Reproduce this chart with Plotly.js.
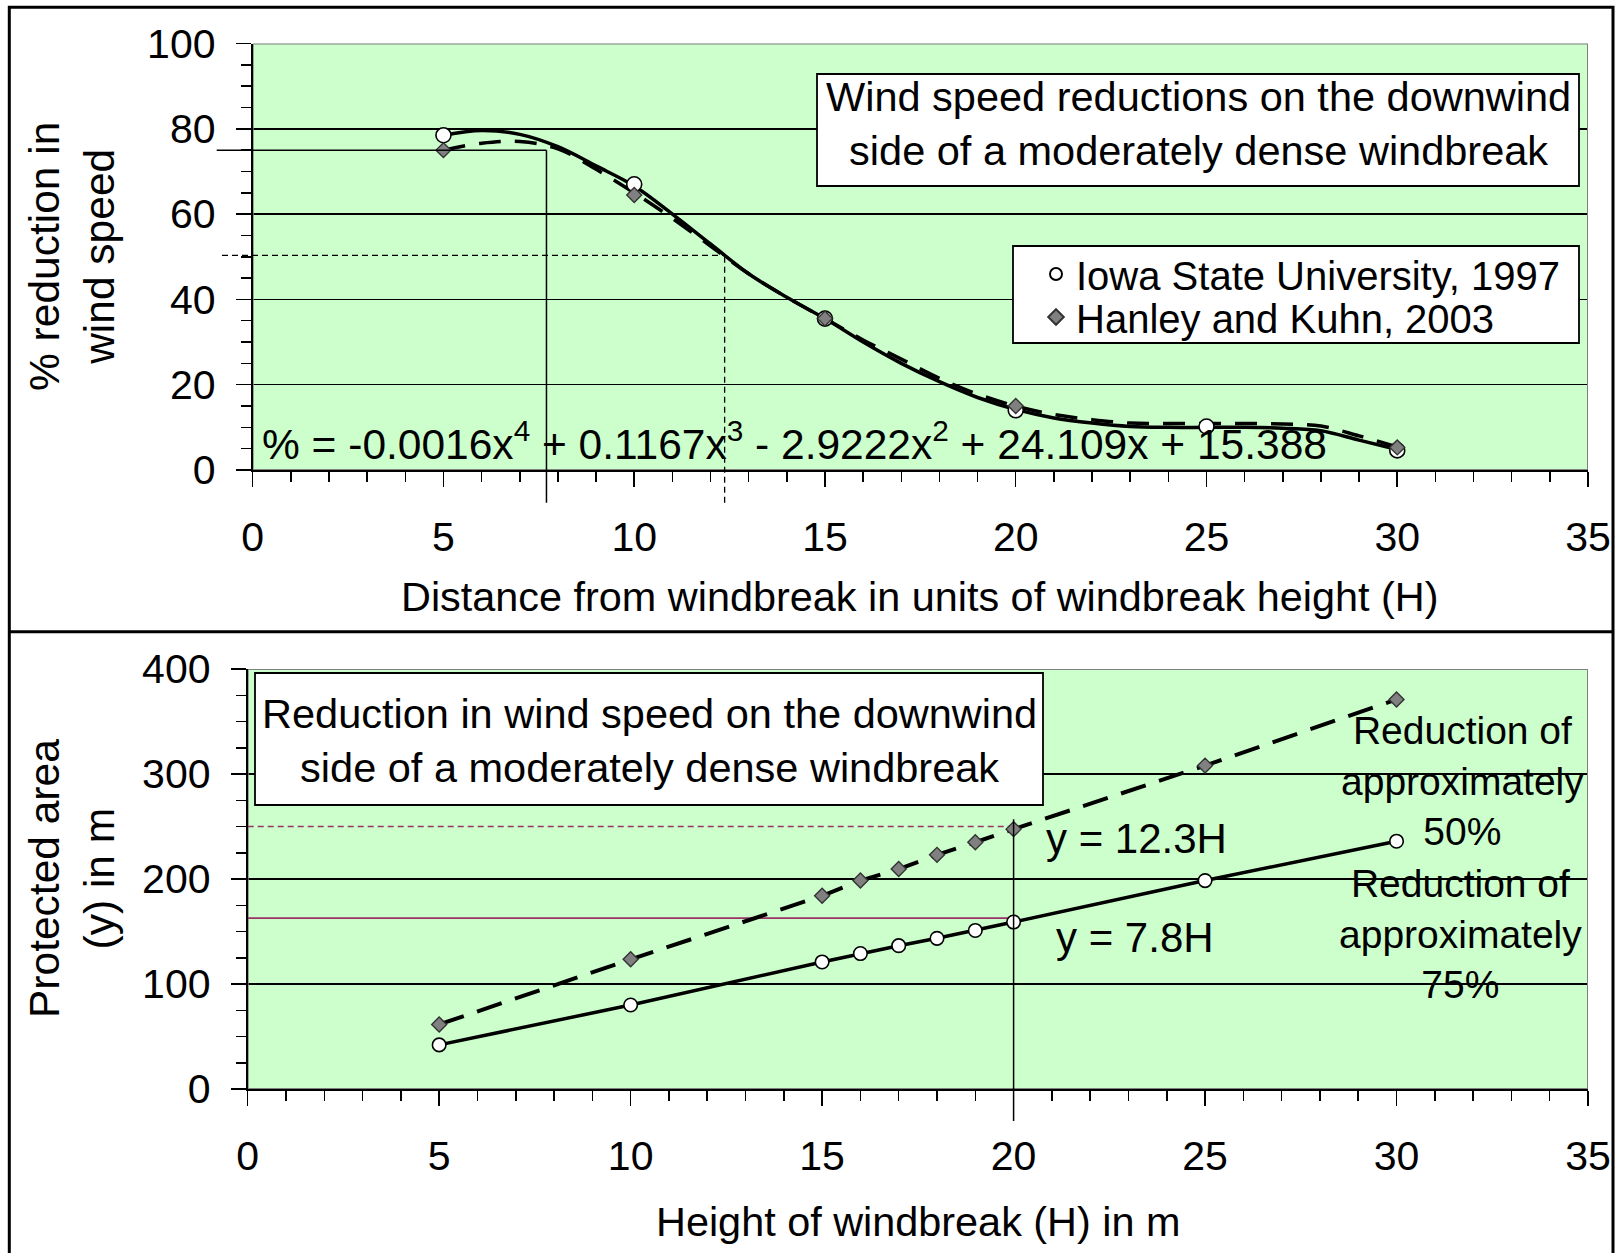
<!DOCTYPE html>
<html>
<head>
<meta charset="utf-8">
<script src="https://cdn.plot.ly/plotly-3.0.1.min.js"></script>
<style>
  html, body { margin: 0; padding: 0; background: #ffffff; }
  #chart { width: 1621px; height: 1253px; }
</style>
</head>
<body>
<div id="chart"></div>
<script>
// ---------- Upper panel: % reduction in wind speed vs distance (in H) ----------
const isuDist = [5, 10, 15, 20, 25, 30];
const isuReduction = [78.5, 67, 35.5, 14, 10.2, 4.6];
const hkDist = [5, 10, 15, 20, 30];
const hkReduction = [75, 64.5, 35.5, 15, 5.3];

// smoothed curves through each data set
const curveDist = [5, 6, 7, 8, 9, 10, 11, 12, 13, 14, 15, 16, 17, 18, 19, 20, 21, 22, 23, 24, 25, 26, 27, 28, 29, 30];
const isuCurve = [78.5, 79.6, 78.7, 75.8, 71.3, 66.6, 60, 53, 46, 40.5, 35.5, 30, 25, 20.7, 17, 14.2, 12.2, 11, 10.2, 10, 10, 10, 9.8, 9.2, 7, 4.8];
const hkCurve = [75, 76.6, 77, 75.3, 70.5, 65, 59, 52.5, 46, 40.5, 35.5, 30.5, 26, 21.5, 17.8, 15, 13, 11.8, 11, 10.9, 10.9, 10.9, 10.8, 10.3, 8, 5.4];

// equation of the fitted trend
const trendEquation = '% = -0.0016x<sup>4</sup> + 0.1167x<sup>3</sup> - 2.9222x<sup>2</sup> + 24.109x + 15.388';

// reading guides: distance at which 75 % and ~50 % reduction is reached
const guide75 = { dist: 7.7, pct: 75 };
const guide50 = { dist: 12.37, pct: 50.3 };

// ---------- Lower panel: protected area vs windbreak height ----------
const heightM = [5, 10, 15, 16, 17, 18, 19, 20, 25, 30];
const area75 = [42, 80, 121, 129, 136.5, 143.5, 151, 159, 198.5, 236];
const area50 = [61.5, 123.5, 184, 198.5, 209.5, 223, 235, 247.5, 308, 371];
const guideHeight = 20;
const guideArea50 = 250;
const guideArea75 = 162.7;
const guideTop = 257;

const seriesNames = ['Iowa State University, 1997', 'Hanley and Kuhn, 2003'];

// ---------- page geometry (pixels) ----------
const W = 1621, H = 1253;
const px = v => v / W;
const py = v => 1 - v / H;

const upperBox = { left: 252.7, right: 1588, top: 43.5, bottom: 470, x: [0, 35], y: [0, 100] };
const lowerBox = { left: 247.7, right: 1588, top: 669, bottom: 1089, x: [0, 35], y: [0, 400] };
const frac = (v, r) => (v - r[0]) / (r[1] - r[0]);

const FONT = '"Liberation Sans", Arial, Helvetica, sans-serif';
const GREEN = '#CCFFCC';

function xAxis(p, anchor) {
  return {
    domain: [px(p.left), px(p.right)], anchor: anchor, range: p.x,
    showline: true, linecolor: '#000', linewidth: 2,
    ticks: 'outside', ticklen: 15, tickwidth: 1.5, tickcolor: '#000',
    tick0: 0, dtick: 5, ticklabelstandoff: 15,
    minor: { dtick: 1, ticks: 'outside', ticklen: 10, tickwidth: 1.5, tickcolor: '#000', showgrid: false },
    showgrid: false, zeroline: false,
    tickfont: { family: FONT, size: 41, color: '#000' },
    fixedrange: true
  };
}
function yAxis(p, anchor, major, minor) {
  return {
    domain: [py(p.bottom), py(p.top)], anchor: anchor, range: p.y,
    showline: true, linecolor: '#000', linewidth: 2,
    ticks: 'outside', ticklen: 15, tickwidth: 1.5, tickcolor: '#000',
    tick0: 0, dtick: major, ticklabelstandoff: 12,
    minor: { dtick: minor, ticks: 'outside', ticklen: 10, tickwidth: 1.5, tickcolor: '#000', showgrid: false },
    showgrid: true, gridcolor: '#000', gridwidth: 1.5, zeroline: false,
    tickfont: { family: FONT, size: 41, color: '#000' },
    fixedrange: true
  };
}

const circleMarker = (size) => ({ symbol: 'circle', size: size, color: '#ffffff', line: { color: '#000', width: 1.6 } });
const diamondMarker = (size) => ({ symbol: 'diamond', size: size, color: '#808080', line: { color: '#333333', width: 1.4 } });

const traces = [
  // upper panel curves (dashed first so the solid one sits on top)
  { x: curveDist, y: hkCurve, xaxis: 'x', yaxis: 'y', mode: 'lines', showlegend: false, hoverinfo: 'skip',
    line: { shape: 'spline', color: '#000', width: 3.5, dash: '22px,14px' } },
  { x: curveDist, y: isuCurve, xaxis: 'x', yaxis: 'y', mode: 'lines', showlegend: false, hoverinfo: 'skip',
    line: { shape: 'spline', color: '#000', width: 3.5 } },
  { x: isuDist, y: isuReduction, xaxis: 'x', yaxis: 'y', mode: 'markers', name: seriesNames[0],
    legend: 'legend', marker: circleMarker(15) },
  { x: hkDist, y: hkReduction, xaxis: 'x', yaxis: 'y', mode: 'markers', name: seriesNames[1],
    legend: 'legend2', marker: diamondMarker(11.5) },

  // lower panel
  { x: heightM, y: area50, xaxis: 'x2', yaxis: 'y2', mode: 'lines+markers', showlegend: false,
    line: { color: '#000', width: 4, dash: '26px,14px' }, marker: diamondMarker(11.5) },
  { x: heightM, y: area75, xaxis: 'x2', yaxis: 'y2', mode: 'lines+markers', showlegend: false,
    line: { color: '#000', width: 3.5 }, marker: circleMarker(13.5) }
];

const shapes = [
  // plot area borders (grey), above the grid, below the data
  { type: 'rect', xref: 'x', yref: 'y', x0: upperBox.x[0], x1: upperBox.x[1], y0: upperBox.y[0], y1: upperBox.y[1],
    layer: 'between', line: { color: '#808080', width: 2 } },
  { type: 'rect', xref: 'x2', yref: 'y2', x0: lowerBox.x[0], x1: lowerBox.x[1], y0: lowerBox.y[0], y1: lowerBox.y[1],
    layer: 'between', line: { color: '#808080', width: 2 } },

  // outer frame and panel divider
  { type: 'rect', xref: 'paper', yref: 'paper', x0: px(9.3), x1: px(1613), y0: py(1262), y1: py(7.3),
    layer: 'above', line: { color: '#000', width: 3 } },
  { type: 'line', xref: 'paper', yref: 'paper', x0: px(9.3), x1: px(1613), y0: py(631.7), y1: py(631.7),
    layer: 'above', line: { color: '#000', width: 3 } },

  // white boxes: upper title, legend, lower title
  { type: 'rect', xref: 'paper', yref: 'paper', x0: px(817), x1: px(1579), y0: py(186), y1: py(74),
    layer: 'above', fillcolor: '#ffffff', line: { color: '#000', width: 1.8 } },
  { type: 'rect', xref: 'paper', yref: 'paper', x0: px(1013), x1: px(1579), y0: py(343), y1: py(246),
    layer: 'above', fillcolor: '#ffffff', line: { color: '#000', width: 1.8 } },
  { type: 'rect', xref: 'paper', yref: 'paper', x0: px(255), x1: px(1043), y0: py(805), y1: py(673),
    layer: 'above', fillcolor: '#ffffff', line: { color: '#000', width: 1.8 } },

  // upper panel reading guides
  { type: 'line', xref: 'x domain', yref: 'y', x0: -(upperBox.left - 216.7) / (upperBox.right - upperBox.left), x1: frac(guide75.dist, upperBox.x),
    y0: guide75.pct, y1: guide75.pct, layer: 'above', line: { color: '#000', width: 1.5 } },
  { type: 'line', xref: 'x', yref: 'y domain', x0: guide75.dist, x1: guide75.dist,
    y0: -32.7 / (upperBox.bottom - upperBox.top), y1: frac(guide75.pct, upperBox.y), layer: 'above', line: { color: '#000', width: 1.5 } },
  { type: 'line', xref: 'x domain', yref: 'y', x0: -(upperBox.left - 222) / (upperBox.right - upperBox.left), x1: frac(guide50.dist, upperBox.x),
    y0: guide50.pct, y1: guide50.pct, layer: 'above', line: { color: '#000', width: 1.3, dash: '6px,4px' } },
  { type: 'line', xref: 'x', yref: 'y domain', x0: guide50.dist, x1: guide50.dist,
    y0: -32.7 / (upperBox.bottom - upperBox.top), y1: frac(guide50.pct, upperBox.y), layer: 'above', line: { color: '#000', width: 1.3, dash: '6px,4px' } },

  // lower panel reading guides
  { type: 'line', xref: 'x2', yref: 'y2', x0: 0, x1: guideHeight, y0: guideArea50, y1: guideArea50,
    layer: 'between', line: { color: '#993366', width: 1.3, dash: '6px,4px' } },
  { type: 'line', xref: 'x2', yref: 'y2', x0: 0, x1: guideHeight, y0: guideArea75, y1: guideArea75,
    layer: 'between', line: { color: '#993366', width: 1.6 } },
  { type: 'line', xref: 'x2', yref: 'y2 domain', x0: guideHeight, x1: guideHeight,
    y0: -32 / (lowerBox.bottom - lowerBox.top), y1: frac(guideTop, lowerBox.y), layer: 'above', line: { color: '#000', width: 1.5 } }
];

function note(text, x, y, size, opts) {
  return Object.assign({
    text: text, xref: 'paper', yref: 'paper', x: px(x), y: py(y),
    xanchor: 'center', yanchor: 'middle', showarrow: false,
    font: { family: FONT, size: size, color: '#000' }, align: 'center'
  }, opts || {});
}

const annotations = [
  note('Wind speed reductions on the downwind<br>side of a moderately dense windbreak', 1198, 124, 41.5),
  note(trendEquation, 260, 470, 42.5, { xanchor: 'left', yanchor: 'bottom' }),
  note('% reduction in<br>wind speed', 72, 257, 42.5, { textangle: -90 }),
  note('Distance from windbreak in units of windbreak height (H)', 920, 597, 41.4),

  note('Reduction in wind speed on the downwind<br>side of a moderately dense windbreak', 649, 740, 41.5),
  note('y = 12.3H', 1044, 839, 42, { xanchor: 'left' }),
  note('y = 7.8H', 1054, 937, 42, { xanchor: 'left' }),
  note('Reduction of<br>approximately<br>50%', 1462, 781, 39),
  note('Reduction of<br>approximately<br>75%', 1460, 934, 39),
  note('Protected area<br>(y) in m', 72, 879, 42.5, { textangle: -90 }),
  note('Height of windbreak (H) in m', 918, 1222, 41.4)
];

const legendBase = {
  xanchor: 'left', yanchor: 'middle', bgcolor: 'rgba(0,0,0,0)', borderwidth: 0,
  font: { family: FONT, size: 40, color: '#000' }, itemsizing: 'constant'
};

const layout = {
  width: W, height: H,
  margin: { l: 0, r: 0, t: 0, b: 0, pad: 0 },
  paper_bgcolor: '#ffffff', plot_bgcolor: GREEN,
  font: { family: FONT, color: '#000' },
  xaxis: xAxis(upperBox, 'y'),
  yaxis: yAxis(upperBox, 'x', 20, 5),
  xaxis2: xAxis(lowerBox, 'y2'),
  yaxis2: yAxis(lowerBox, 'x2', 100, 25),
  legend: Object.assign({ x: px(1036), y: py(274) }, legendBase),
  legend2: Object.assign({ x: px(1036), y: py(317) }, legendBase),
  shapes: shapes,
  annotations: annotations,
  hovermode: false
};

Plotly.newPlot('chart', traces, layout, { staticPlot: true, displayModeBar: false });
</script>
</body>
</html>
